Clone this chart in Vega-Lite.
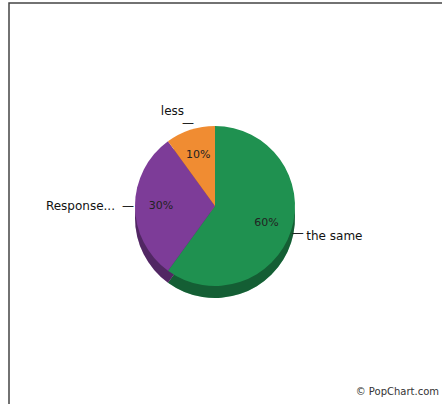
{
  "$schema": "https://vega.github.io/schema/vega-lite/v6.json",
  "autosize": {"type": "none"},
  "padding": {"left": 9, "top": 3, "right": 0, "bottom": 0},
  "width": 440,
  "height": 406,
  "background": "white",
  "view": {"stroke": "#444", "strokeWidth": 1.5, "fill": "white"},
  "config": {
    "view": {"stroke": "#444", "strokeWidth": 1.5},
    "text": {"font": "DejaVu Sans", "fontSize": 12}
  },
  "title": {
    "text": "© PopChart.com",
    "orient": "bottom",
    "anchor": "end",
    "offset": -22,
    "fontSize": 10,
    "font": "DejaVu Sans",
    "fontWeight": "normal",
    "color": "#333",
    "dx": -10
  },
  "data": {
    "values": [
      {"label": "the same", "value": 60, "pct": "60%"},
      {"label": "Response...", "value": 30, "pct": "30%"},
      {"label": "less", "value": 10, "pct": "10%"}
    ]
  },
  "encoding": {
    "theta": {"field": "value", "type": "quantitative", "stack": true},
    "order": {"field": "value", "type": "quantitative", "sort": "descending"}
  },
  "layer": [
    {
      "mark": {"type": "arc", "outerRadius": 80, "xOffset": -14, "yOffset": 12},
      "encoding": {
        "color": {
          "field": "label", "type": "nominal", "legend": null,
          "scale": {"domain": ["the same", "Response...", "less"], "range": ["#1f9150", "#7d3c98", "#f08c32"]}
        }
      }
    },
    {
      "mark": {"type": "arc", "outerRadius": 80, "xOffset": -14, "yOffset": 12, "color": "black", "opacity": 0.35},
      "encoding": {}
    },
    {
      "mark": {"type": "arc", "outerRadius": 80, "xOffset": -14},
      "encoding": {
        "color": {"field": "label", "type": "nominal", "legend": null}
      }
    },
    {
      "mark": {"type": "text", "radius": 54, "xOffset": -14, "color": "#222", "fontSize": 11},
      "encoding": {"text": {"field": "pct"}}
    },
    {
      "mark": {"type": "text", "radius": 87, "xOffset": -14, "text": "—", "color": "#222"},
      "encoding": {}
    },
    {
      "mark": {"type": "text", "radius": 96, "xOffset": -14, "align": "left", "color": "#111"},
      "encoding": {
        "text": {"field": "label"},
        "opacity": {"condition": {"test": "datum.label === 'the same'", "value": 1}, "value": 0}
      }
    },
    {
      "mark": {"type": "text", "radius": 100, "xOffset": -14, "align": "right", "color": "#111"},
      "encoding": {
        "text": {"field": "label"},
        "opacity": {"condition": {"test": "datum.label !== 'the same'", "value": 1}, "value": 0}
      }
    }
  ]
}
